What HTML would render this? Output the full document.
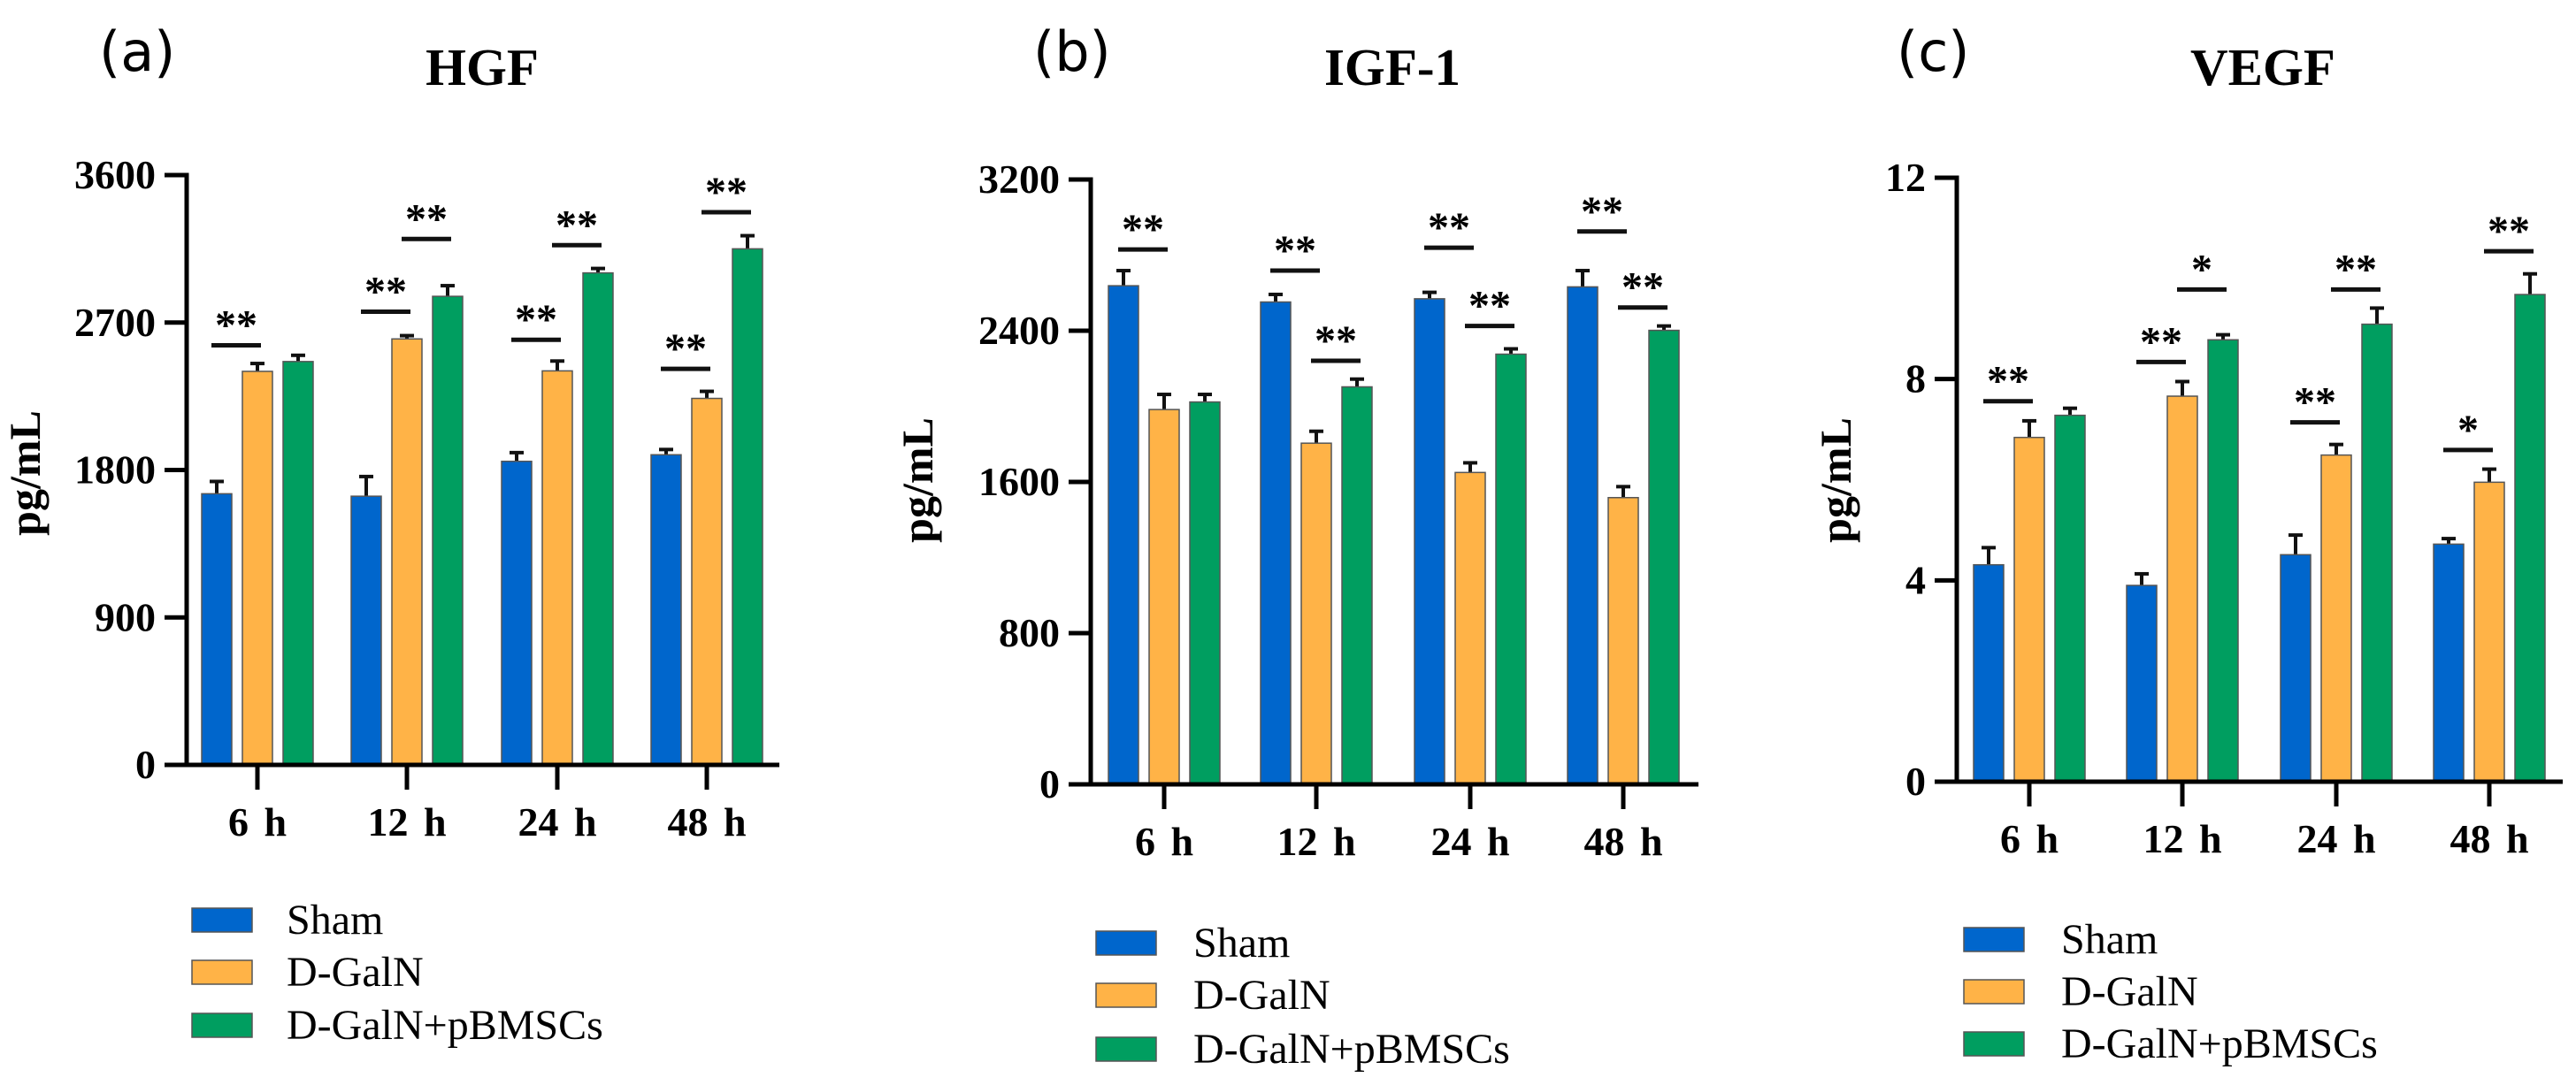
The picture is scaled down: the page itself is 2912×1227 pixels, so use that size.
<!DOCTYPE html>
<html><head><meta charset="utf-8"><style>
html,body{margin:0;padding:0;background:#fff}
svg{display:block}
text{font-family:"Liberation Serif",serif}
text.sans{font-family:"DejaVu Sans","Liberation Sans",sans-serif}
</style></head><body>
<svg id="fig" width="2912" height="1227" viewBox="0 0 2912 1227" xmlns="http://www.w3.org/2000/svg"></svg>
<script>
const categories = ["6 h","12 h","24 h","48 h"];
const seriesNames = ["Sham","D-GalN","D-GalN+pBMSCs"];
const colors = ["#0066cc","#ffb347","#009e60"];

// Panel (a) HGF
const hgfSham = [1655,1640,1853,1893];
const hgfSham_err = [1730,1760,1906,1925];
const hgfGal = [2402,2600,2405,2237];
const hgfGal_err = [2450,2620,2465,2280];
const hgfBm = [2462,2860,3003,3150];
const hgfBm_err = [2500,2925,3030,3230];
const hgfTicks = [0,900,1800,2700,3600];
const hgfSigSO = [2561,2766,2595,2417];
const hgfSigSOLabel = ["**","**","**","**"];
const hgfSigOG = [null,3210,3172,3373];
const hgfSigOGLabel = ["","**","**","**"];

// Panel (b) IGF-1
const igfSham = [2638,2552,2569,2632];
const igfSham_err = [2718,2592,2603,2718];
const igfGal = [1983,1805,1650,1517];
const igfGal_err = [2063,1868,1701,1575];
const igfBm = [2023,2103,2276,2402];
const igfBm_err = [2063,2144,2304,2425];
const igfTicks = [0,800,1600,2400,3200];
const igfSigSO = [2830,2718,2839,2925];
const igfSigSOLabel = ["**","**","**","**"];
const igfSigOG = [null,2241,2425,2523];
const igfSigOGLabel = ["","**","**","**"];

// Panel (c) VEGF
const vegfSham = [4.31,3.90,4.51,4.72];
const vegfSham_err = [4.65,4.13,4.90,4.83];
const vegfGal = [6.84,7.66,6.49,5.95];
const vegfGal_err = [7.17,7.95,6.70,6.21];
const vegfBm = [7.28,8.78,9.09,9.68];
const vegfBm_err = [7.42,8.88,9.41,10.09];
const vegfTicks = [0,4,8,12];
const vegfSigSO = [7.56,8.34,7.14,6.59];
const vegfSigSOLabel = ["**","**","**","*"];
const vegfSigOG = [null,9.78,9.78,10.54];
const vegfSigOGLabel = ["","*","**","**"];

const NS="http://www.w3.org/2000/svg";
const svg=document.getElementById('fig');
function mk(tag,attrs,parent,txt){
  const e=document.createElementNS(NS,tag);
  for(const k in attrs) e.setAttribute(k,attrs[k]);
  if(txt!==undefined) e.textContent=txt;
  (parent||svg).appendChild(e);
  return e;
}

function panel(p){
  const g=mk('g',{});
  
  
  const ymax=p.ticks[p.ticks.length-1];
  const y=v=>p.zero-(v/ymax)*(p.zero-p.top);
  const x=(ci,si)=>p.cats[ci]+(si-1)*46;
  const lt=mk('text',{x:p.letterX,y:80,'font-size':62,'class':'sans'},g,p.letter);
  
  
  const tt=mk('text',{x:p.titleX,y:96,'font-size':59,'font-weight':'bold','text-anchor':'middle'},g,p.title);
  
  
  const yl=mk('text',{x:0,y:0,'font-size':50,'font-weight':'bold','text-anchor':'middle',transform:`translate(${p.ylabX+17},${p.ylabY}) rotate(-90)`},g,'pg/mL');
  
  
  const series=[p.s0,p.s1,p.s2], errs=[p.e0,p.e1,p.e2];
  for(let ci=0;ci<4;ci++){
    for(let si=0;si<3;si++){
      const cx=x(ci,si), v=series[si][ci], ev=errs[si][ci];
      const el=mk('line',{x1:cx,x2:cx,y1:y(v),y2:y(ev),stroke:'#111','stroke-width':4},g);
      
      
      const ec=mk('line',{x1:cx-8,x2:cx+8,y1:y(ev),y2:y(ev),stroke:'#111','stroke-width':4},g);
      
      
      const r=mk('rect',{x:cx-17,y:y(v),width:34,height:p.zero-y(v),fill:colors[si],stroke:'#555','stroke-width':1.5},g);
      
      
    }
    const sigs=[[p.sigSO,p.sigSOL,0],[p.sigOG,p.sigOGL,1]];
    for(const [arr,lab,i] of sigs){
      if(arr[ci]==null) continue;
      const mid=(x(ci,i)+x(ci,i+1))/2-1, ly=y(arr[ci]);
      const sl=mk('line',{x1:mid-28,x2:mid+28,y1:ly,y2:ly,stroke:'#111','stroke-width':5},g);
      
      
      const st=mk('text',{x:mid,y:ly-7,'font-size':48,'font-weight':'bold','text-anchor':'middle'},g,lab[ci]);
      
      
    }
  }
  const ya=mk('line',{x1:p.axisX,x2:p.axisX,y1:p.top-2.5,y2:p.zero+2.5,stroke:'#000','stroke-width':5},g);
  
  
  const xa=mk('line',{x1:p.axisX-25,x2:p.xEnd,y1:p.zero,y2:p.zero,stroke:'#000','stroke-width':5},g);
  
  
  for(const t of p.ticks){
    const tl=mk('line',{x1:p.axisX-25,x2:p.axisX,y1:y(t),y2:y(t),stroke:'#000','stroke-width':5},g);
    
    
    const tx=mk('text',{x:p.axisX-35,y:y(t)+15,'font-size':46,'font-weight':'bold','text-anchor':'end'},g,String(t));
    
    
  }
  for(let ci=0;ci<4;ci++){
    const tl=mk('line',{x1:p.cats[ci],x2:p.cats[ci],y1:p.zero,y2:p.zero+28,stroke:'#000','stroke-width':5},g);
    
    
    const tx=mk('text',{x:p.cats[ci],y:p.zero+80,'font-size':46,'font-weight':'bold','text-anchor':'middle','word-spacing':6},g,categories[ci]);
    
    
  }
  for(let si=0;si<3;si++){
    const cy=p.legY[si];
    const sw=mk('rect',{x:p.legX,y:cy-13,width:68,height:27,fill:colors[si],stroke:'#555','stroke-width':1.5},g);
    
    
    const lt2=mk('text',{x:p.legTextX,y:cy+16,'font-size':48},g,seriesNames[si]);
    
    
  }
}

panel({key:'hgf',letter:'(a)',letterX:112,title:'HGF',titleX:545,ylabX:28,ylabY:535,
  axisX:211,xEnd:881,top:198,zero:865,cats:[291,460,630,799],ticks:hgfTicks,
  s0:hgfSham,s1:hgfGal,s2:hgfBm,e0:hgfSham_err,e1:hgfGal_err,e2:hgfBm_err,
  sigSO:hgfSigSO,sigSOL:hgfSigSOLabel,sigOG:hgfSigOG,sigOGL:hgfSigOGLabel,
  legX:217,legTextX:324,legY:[1040,1099,1159]});
panel({key:'igf',letter:'(b)',letterX:1168,title:'IGF-1',titleX:1574,ylabX:1037,ylabY:543,
  axisX:1233,xEnd:1920,top:203,zero:887,cats:[1316,1488,1662,1835],ticks:igfTicks,
  s0:igfSham,s1:igfGal,s2:igfBm,e0:igfSham_err,e1:igfGal_err,e2:igfBm_err,
  sigSO:igfSigSO,sigSOL:igfSigSOLabel,sigOG:igfSigOG,sigOGL:igfSigOGLabel,
  legX:1239,legTextX:1349,legY:[1066,1125,1186]});
panel({key:'vegf',letter:'(c)',letterX:2144,title:'VEGF',titleX:2558,ylabX:2075,ylabY:543,
  axisX:2212,xEnd:2897,top:201,zero:884,cats:[2294,2467,2641,2814],ticks:vegfTicks,
  s0:vegfSham,s1:vegfGal,s2:vegfBm,e0:vegfSham_err,e1:vegfGal_err,e2:vegfBm_err,
  sigSO:vegfSigSO,sigSOL:vegfSigSOLabel,sigOG:vegfSigOG,sigOGL:vegfSigOGLabel,
  legX:2220,legTextX:2330,legY:[1062,1121,1180]});
</script>
</body></html>
